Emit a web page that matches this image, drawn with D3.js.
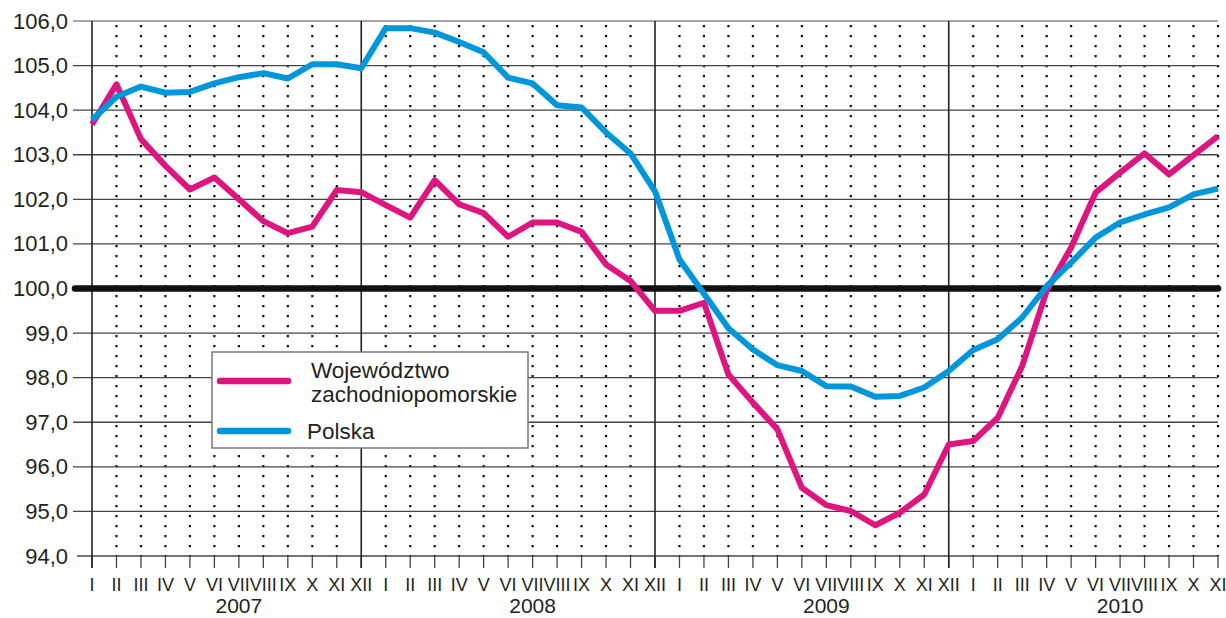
<!DOCTYPE html>
<html lang="pl">
    <head>
        <meta charset="utf-8">
        <title>Wskaźnik</title>
        <script type="text/javascript" src="https://d3js.org/d3.v7.min.js"></script>
        <style type="text/css">
          body { margin: 0; background: #fff; }
          text { font-family: "Liberation Sans", Arial, sans-serif; fill: #231f20; }
        </style>
    </head>
    <body>
        <script type="text/javascript">
        var w = 1226;
        var h = 618;

        // months I 2007 .. XI 2010
        var months = ['I','II','III','IV','V','VI','VII','VIII','IX','X','XI','XII'];
        var years = ['2007', '2008', '2009', '2010'];
        var monthLabels = [];
        for (var yi = 0; yi < years.length; yi++) {
          for (var mi = 0; mi < 12; mi++) monthLabels.push(months[mi]);
        }
        monthLabels = monthLabels.slice(0, 47);

        var yTicks = [94, 95, 96, 97, 98, 99, 100, 101, 102, 103, 104, 105, 106];

        var zachodniopomorskie = [
          103.68, 104.58, 103.35, 102.75, 102.22, 102.49, 102.00, 101.51, 101.24, 101.39, 102.21, 102.16,
          101.87, 101.59, 102.43, 101.89, 101.69, 101.16, 101.48, 101.48, 101.27, 100.54, 100.17, 99.50,
          99.50, 99.68, 98.07, 97.44, 96.84, 95.53, 95.14, 95.01, 94.69, 94.97, 95.38, 96.50,
          96.58, 97.10, 98.26, 99.95, 100.92, 102.15, 102.60, 103.03, 102.56, 102.99, 103.42
        ];
        var polska = [
          103.78, 104.30, 104.53, 104.39, 104.41, 104.60, 104.74, 104.83, 104.71, 105.03, 105.03, 104.94,
          105.84, 105.84, 105.74, 105.53, 105.30, 104.73, 104.60, 104.11, 104.06, 103.50, 103.03, 102.18,
          100.65, 99.88, 99.11, 98.63, 98.28, 98.15, 97.81, 97.80, 97.57, 97.59, 97.78, 98.15,
          98.62, 98.86, 99.35, 100.05, 100.58, 101.14, 101.48, 101.66, 101.82, 102.11, 102.24
        ];
        var legendNames = [['Województwo', 'zachodniopomorskie'], ['Polska']];
        var colors = ['#de1480', '#0096dc'];

        var pLeft = 92, pRight = 1218, pTop = 21, pBottom = 556;

        var svg = d3.select("body").append("svg")
                    .attr("width", w)
                    .attr("height", h);

        var x = d3.scaleLinear().domain([0, 46]).range([pLeft, pRight]);
        var y = d3.scaleLinear().domain([94, 106]).range([pBottom, pTop]);

        // dotted month grid
        svg.append("g").selectAll("line")
          .data(d3.range(1, 47).filter(function(i){ return i % 12 !== 11; }))
          .enter()
          .append("line")
            .attr("x1", function(d){ return x(d); })
            .attr("x2", function(d){ return x(d); })
            .attr("y1", pTop + 4)
            .attr("y2", pBottom)
            .attr("stroke", "#111")
            .attr("stroke-width", 2.2)
            .attr("stroke-dasharray", "2.2,7.8");

        // horizontal grid
        svg.append("g").selectAll("line")
          .data(yTicks.filter(function(d){ return d !== 100; }))
          .enter()
          .append("line")
            .attr("x1", function(d){ return d === 94 ? 77 : 73; })
            .attr("x2", pRight)
            .attr("y1", function(d){ return y(d); })
            .attr("y2", function(d){ return y(d); })
            .attr("stroke", function(d){ return d === 106 ? "#888" : "#444"; })
            .attr("stroke-width", 1.3);

        // month ticks below axis
        svg.append("g").selectAll("line")
          .data(d3.range(0, 47))
          .enter()
          .append("line")
            .attr("x1", function(d){ return x(d); })
            .attr("x2", function(d){ return x(d); })
            .attr("y1", pBottom)
            .attr("y2", 568)
            .attr("stroke", "#444")
            .attr("stroke-width", 1.3);

        // solid verticals: axis and year ends
        svg.append("g").selectAll("line")
          .data([0, 11, 23, 35])
          .enter()
          .append("line")
            .attr("x1", function(d){ return x(d); })
            .attr("x2", function(d){ return x(d); })
            .attr("y1", pTop)
            .attr("y2", 568)
            .attr("stroke", "#222")
            .attr("stroke-width", 1.6);

        // y labels
        svg.append("g").selectAll("text")
          .data(yTicks)
          .enter()
          .append("text")
            .attr("x", 68)
            .attr("y", function(d){ return y(d) + 7.5; })
            .attr("text-anchor", "end")
            .style("font-size", "22px")
            .text(function(d){ return d3.format(".1f")(d).replace(".", ","); });

        // month labels
        svg.append("g").selectAll("text")
          .data(monthLabels)
          .enter()
          .append("text")
            .attr("x", function(d, i){ return x(i); })
            .attr("y", 591)
            .attr("text-anchor", "middle")
            .style("font-size", "18px")
            .text(function(d){ return d; });

        svg.append("g").selectAll("text")
          .data(years)
          .enter()
          .append("text")
            .attr("x", function(d, i){ return x(i * 12 + 6); })
            .attr("y", 613)
            .attr("text-anchor", "middle")
            .style("font-size", "21px")
            .text(function(d){ return d; });

        // 100 line
        svg.append("line")
          .attr("x1", 75)
          .attr("x2", pRight)
          .attr("y1", y(100))
          .attr("y2", y(100))
          .attr("stroke", "#111")
          .attr("stroke-width", 6.5)
          .attr("stroke-linecap", "round");

        var line = d3.line()
            .x(function(d, i){ return x(i); })
            .y(function(d){ return y(d); });

        [zachodniopomorskie, polska].forEach(function(s, k){
          svg.append("path")
            .datum(s)
            .attr("fill", "none")
            .attr("stroke", colors[k])
            .attr("stroke-width", 6)
            .attr("stroke-linejoin", "round")
            .attr("d", line);
        });

        // legend
        var lg = svg.append("g");
        lg.append("rect")
          .attr("x", 212)
          .attr("y", 352)
          .attr("width", 316)
          .attr("height", 96)
          .attr("fill", "#fff")
          .attr("stroke", "#777")
          .attr("stroke-width", 1.5);

        var legY = [381, 431];
        legendNames.forEach(function(names, k){
          lg.append("line")
            .attr("x1", 220)
            .attr("x2", 288)
            .attr("y1", legY[k])
            .attr("y2", legY[k])
            .attr("stroke", colors[k])
            .attr("stroke-width", 6.5)
            .attr("stroke-linecap", "round");
          names.forEach(function(t, j){
            lg.append("text")
              .attr("x", k === 0 ? 311 : 307)
              .attr("y", k === 0 ? 378 + j * 24 : 439)
              .style("font-size", "22.5px")
              .text(t);
          });
        });
        </script>
    </body>
</html>
